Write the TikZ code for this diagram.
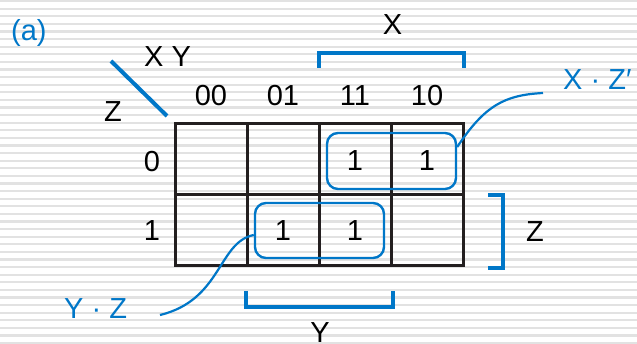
\documentclass[tikz,border=0pt]{standalone}
\usepackage{fontspec}
\setmainfont{Liberation Sans}
\definecolor{kblue}{RGB}{0,119,200}
\definecolor{kline}{RGB}{35,31,32}
\definecolor{kstripe}{RGB}{226,226,226}
\begin{document}
\begin{tikzpicture}[x=1pt,y=-1pt,
  txt/.style={font=\fontsize{29}{32}\selectfont, inner sep=0pt, anchor=base},
  btxt/.style={txt, text=kblue},
  gridline/.style={draw=kline, line width=3pt},
  grp/.style={draw=kblue, line width=2.4pt, rounded corners=11pt, minimum width=129pt, inner sep=0pt},
  brk/.style={draw=kblue, line width=4pt},
  conn/.style={draw=kblue, line width=2.2pt}]
\useasboundingbox (0,0) rectangle (637,344);
\fill[white] (0,0) rectangle (637,344);
\foreach \i in {0,...,45} \fill[kstripe] (0,{7.6*\i}) rectangle (637,{7.6*\i+2.2});
% grid
\draw[gridline] (175,124) rectangle (463,266);
\draw[gridline] (247,124) -- (247,266);
\draw[gridline] (319.5,124) -- (319.5,266);
\draw[gridline] (391.5,124) -- (391.5,266);
\draw[gridline] (175,195) -- (463,195);
% column / row labels
\node[txt] (c00) at (211,106) {00};
\node[txt] (c01) at (283,106) {01};
\node[txt] (c11) at (355,106) {11};
\node[txt] (c10) at (427,106) {10};
\node[txt] (r0) at (152,171.5) {0};
\node[txt] (r1) at (152,240.5) {1};
\node[txt] (xy) at (167.5,66.5) {X Y};
\node[txt] (zl) at (113,121.5) {Z};
\draw[brk] (111,61) -- (167,116);
% ones
\node[txt] (m1) at (355,171) {1};
\node[txt] (m2) at (427,171) {1};
\node[txt] (m3) at (283,240.5) {1};
\node[txt] (m4) at (355,240.5) {1};
% groups
\node[grp, minimum height=56pt] (g1) at (391.5,161) {};
\node[grp, minimum height=55pt] (g2) at (319.5,230.5) {};
% brackets
\draw[brk] (319,68) -- (319,53) -- (464,53) -- (464,68);
\node[txt] (xlab) at (392.5,35) {X};
\draw[brk] (246,291) -- (246,307) -- (393,307) -- (393,291);
\node[txt] (ylab) at (320,343) {Y};
\draw[brk] (488,195) -- (503,195) -- (503,268) -- (488,268);
\node[txt] (zlab) at (535,241.5) {Z};
% labels and connectors
\node[btxt, anchor=base west] (a) at (11,41) {(a)};
\node[btxt, anchor=base west] (xz) at (563,90) {X · Z′};
\node[btxt, anchor=base west] (yz) at (64,318.5) {Y · Z};
\coordinate (xzend) at (543,93);
\coordinate (yzend) at (160,315);
\draw[conn] ([yshift=14pt]g1.east) .. controls (485,105) and (505,95) .. (xzend);
\draw[conn] ([yshift=-4.5pt]g2.west) .. controls (218,242) and (222,300) .. (yzend);
\end{tikzpicture}
\end{document}
